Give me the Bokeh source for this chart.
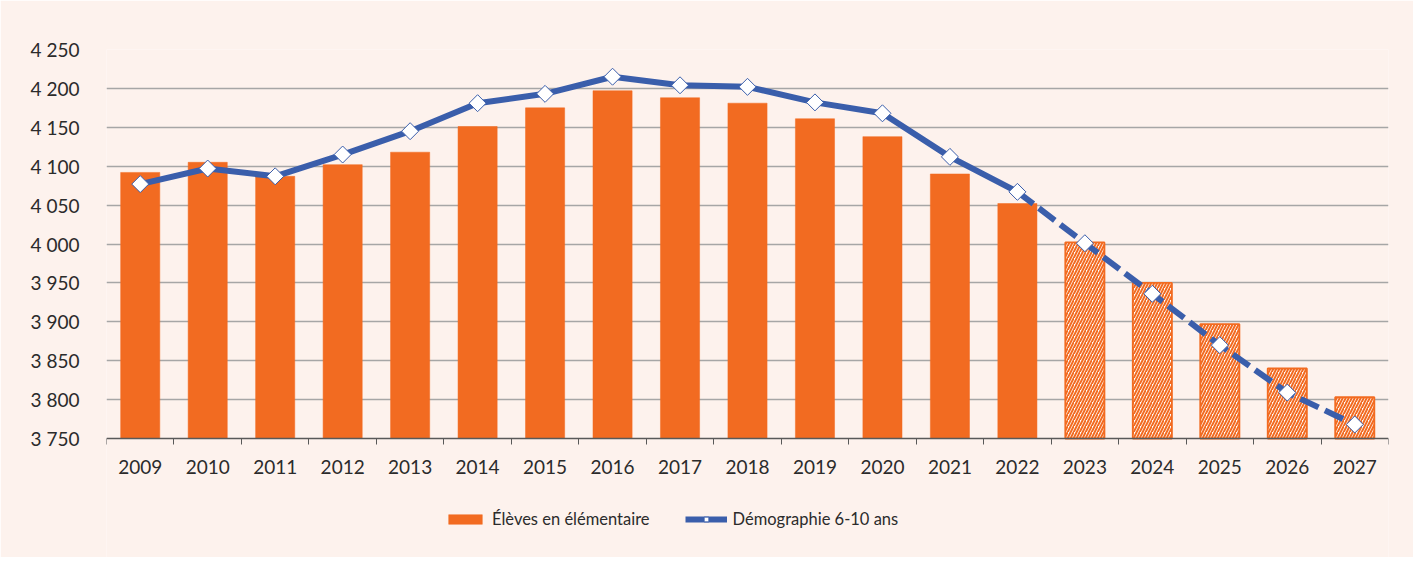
import math
from bokeh.plotting import figure
from bokeh.models import Range1d, FixedTicker, Legend, LegendItem, ColumnDataSource
from bokeh.embed import file_html
from bokeh.resources import INLINE

# ---- data ----
years = [2009, 2010, 2011, 2012, 2013, 2014, 2015, 2016, 2017, 2018,
         2019, 2020, 2021, 2022, 2023, 2024, 2025, 2026, 2027]
eleves = [4092, 4105, 4087, 4102, 4118, 4151, 4175, 4197, 4188, 4181,
          4161, 4138, 4090, 4052, 4002, 3950, 3897, 3840, 3803]
demographie = [4077, 4097, 4087, 4115, 4145, 4181, 4193, 4215, 4204, 4202,
               4182, 4168, 4112, 4067, 4001, 3936, 3870, 3809, 3768]
last_observed = 2022
y_ticks = [3750, 3800, 3850, 3900, 3950, 4000, 4050, 4100, 4150, 4200, 4250]

ORANGE = "#F26B21"
BLUE = "#3A5EAB"
BG = "#FDF2ED"
TXT = "#2B2B2B"
FONT = "Lato"
FS = "19px"

# layout (pixels)
PLOT_H = 389          # height of the 3750..4250 band
FRAME_H = 508         # frame extends below the axis to hold the legend
y_lo, y_hi = y_ticks[0], y_ticks[-1]
y_start = y_hi - (y_hi - y_lo) * FRAME_H / PLOT_H

idx = list(range(len(years)))
obs = [i for i, y in enumerate(years) if y <= last_observed]
proj = [i for i, y in enumerate(years) if y > last_observed]
k = obs[-1]

p = figure(frame_width=1282, frame_height=FRAME_H, output_backend="svg", toolbar_location=None,
           x_range=Range1d(-0.5, len(years) - 0.5), y_range=Range1d(y_start, y_hi),
           min_border_left=106, min_border_right=25, min_border_top=49, min_border_bottom=0)
p.background_fill_color = BG
p.border_fill_color = BG
p.outline_line_color = None

# bars
src_obs = ColumnDataSource(dict(x=obs, top=[eleves[i] for i in obs]))
src_proj = ColumnDataSource(dict(x=proj, top=[eleves[i] for i in proj]))
bars = p.vbar(x="x", top="top", bottom=y_lo, width=0.58, source=src_obs,
              fill_color=ORANGE, line_color=ORANGE, line_width=0.5)
p.vbar(x="x", top="top", bottom=y_lo, width=0.58, source=src_proj,
       fill_color="white", line_color=ORANGE, line_width=1.8,
       hatch_pattern="/", hatch_color=ORANGE, hatch_scale=6, hatch_weight=2)

# line
solid_x = obs
dash_x = [k] + proj
line_solid = p.line(solid_x, [demographie[i] for i in solid_x],
                    line_color=BLUE, line_width=6, line_join="round")
p.line(dash_x, [demographie[i] for i in dash_x],
       line_color=BLUE, line_width=6, line_dash="20 7")
marks = p.scatter(idx, demographie, marker="square", angle=math.pi / 4, size=12,
                  fill_color="white", line_color=BLUE, line_width=1)

# axes
xa = p.xaxis[0]
xa.fixed_location = y_lo
xa.ticker = FixedTicker(ticks=idx, minor_ticks=[i - 0.5 for i in range(len(years) + 1)])
xa.major_label_overrides = {i: str(y) for i, y in enumerate(years)}
xa.major_tick_out = 0
xa.major_tick_in = 0
xa.minor_tick_out = 6
xa.minor_tick_in = 0
xa.minor_tick_line_color = "#595959"
xa.axis_line_color = "#595959"
xa.axis_line_width = 1.5
xa.major_label_text_font = FONT
xa.major_label_text_font_size = FS
xa.major_label_text_color = TXT
xa.major_label_standoff = 15

ya = p.yaxis[0]
ya.ticker = FixedTicker(ticks=y_ticks)
ya.major_label_overrides = {t: f"{t:,}".replace(",", " ") for t in y_ticks}
ya.axis_line_color = None
ya.major_tick_line_color = None
ya.minor_tick_line_color = None
ya.major_label_text_font = FONT
ya.major_label_text_font_size = FS
ya.major_label_text_color = TXT
ya.major_label_standoff = 21

p.xgrid.grid_line_color = None
p.ygrid.ticker = FixedTicker(ticks=y_ticks[1:])
p.ygrid.grid_line_color = "#A6A6A6"
p.ygrid.grid_line_width = 1.3

legend = Legend(items=[LegendItem(label="Élèves en élémentaire", renderers=[bars]),
                       LegendItem(label="Démographie 6-10 ans", renderers=[line_solid, marks])],
                orientation="horizontal", location=(338, 28))
legend.background_fill_alpha = 0
legend.border_line_color = None
legend.label_text_font = FONT
legend.label_text_font_size = "16.5px"
legend.label_text_color = TXT
legend.glyph_width = 42
legend.glyph_height = 12
legend.label_standoff = 6
legend.spacing = 35
legend.padding = 0
legend.margin = 0
p.add_layout(legend, "center")

open("out.html", "w").write(file_html(p, INLINE))
